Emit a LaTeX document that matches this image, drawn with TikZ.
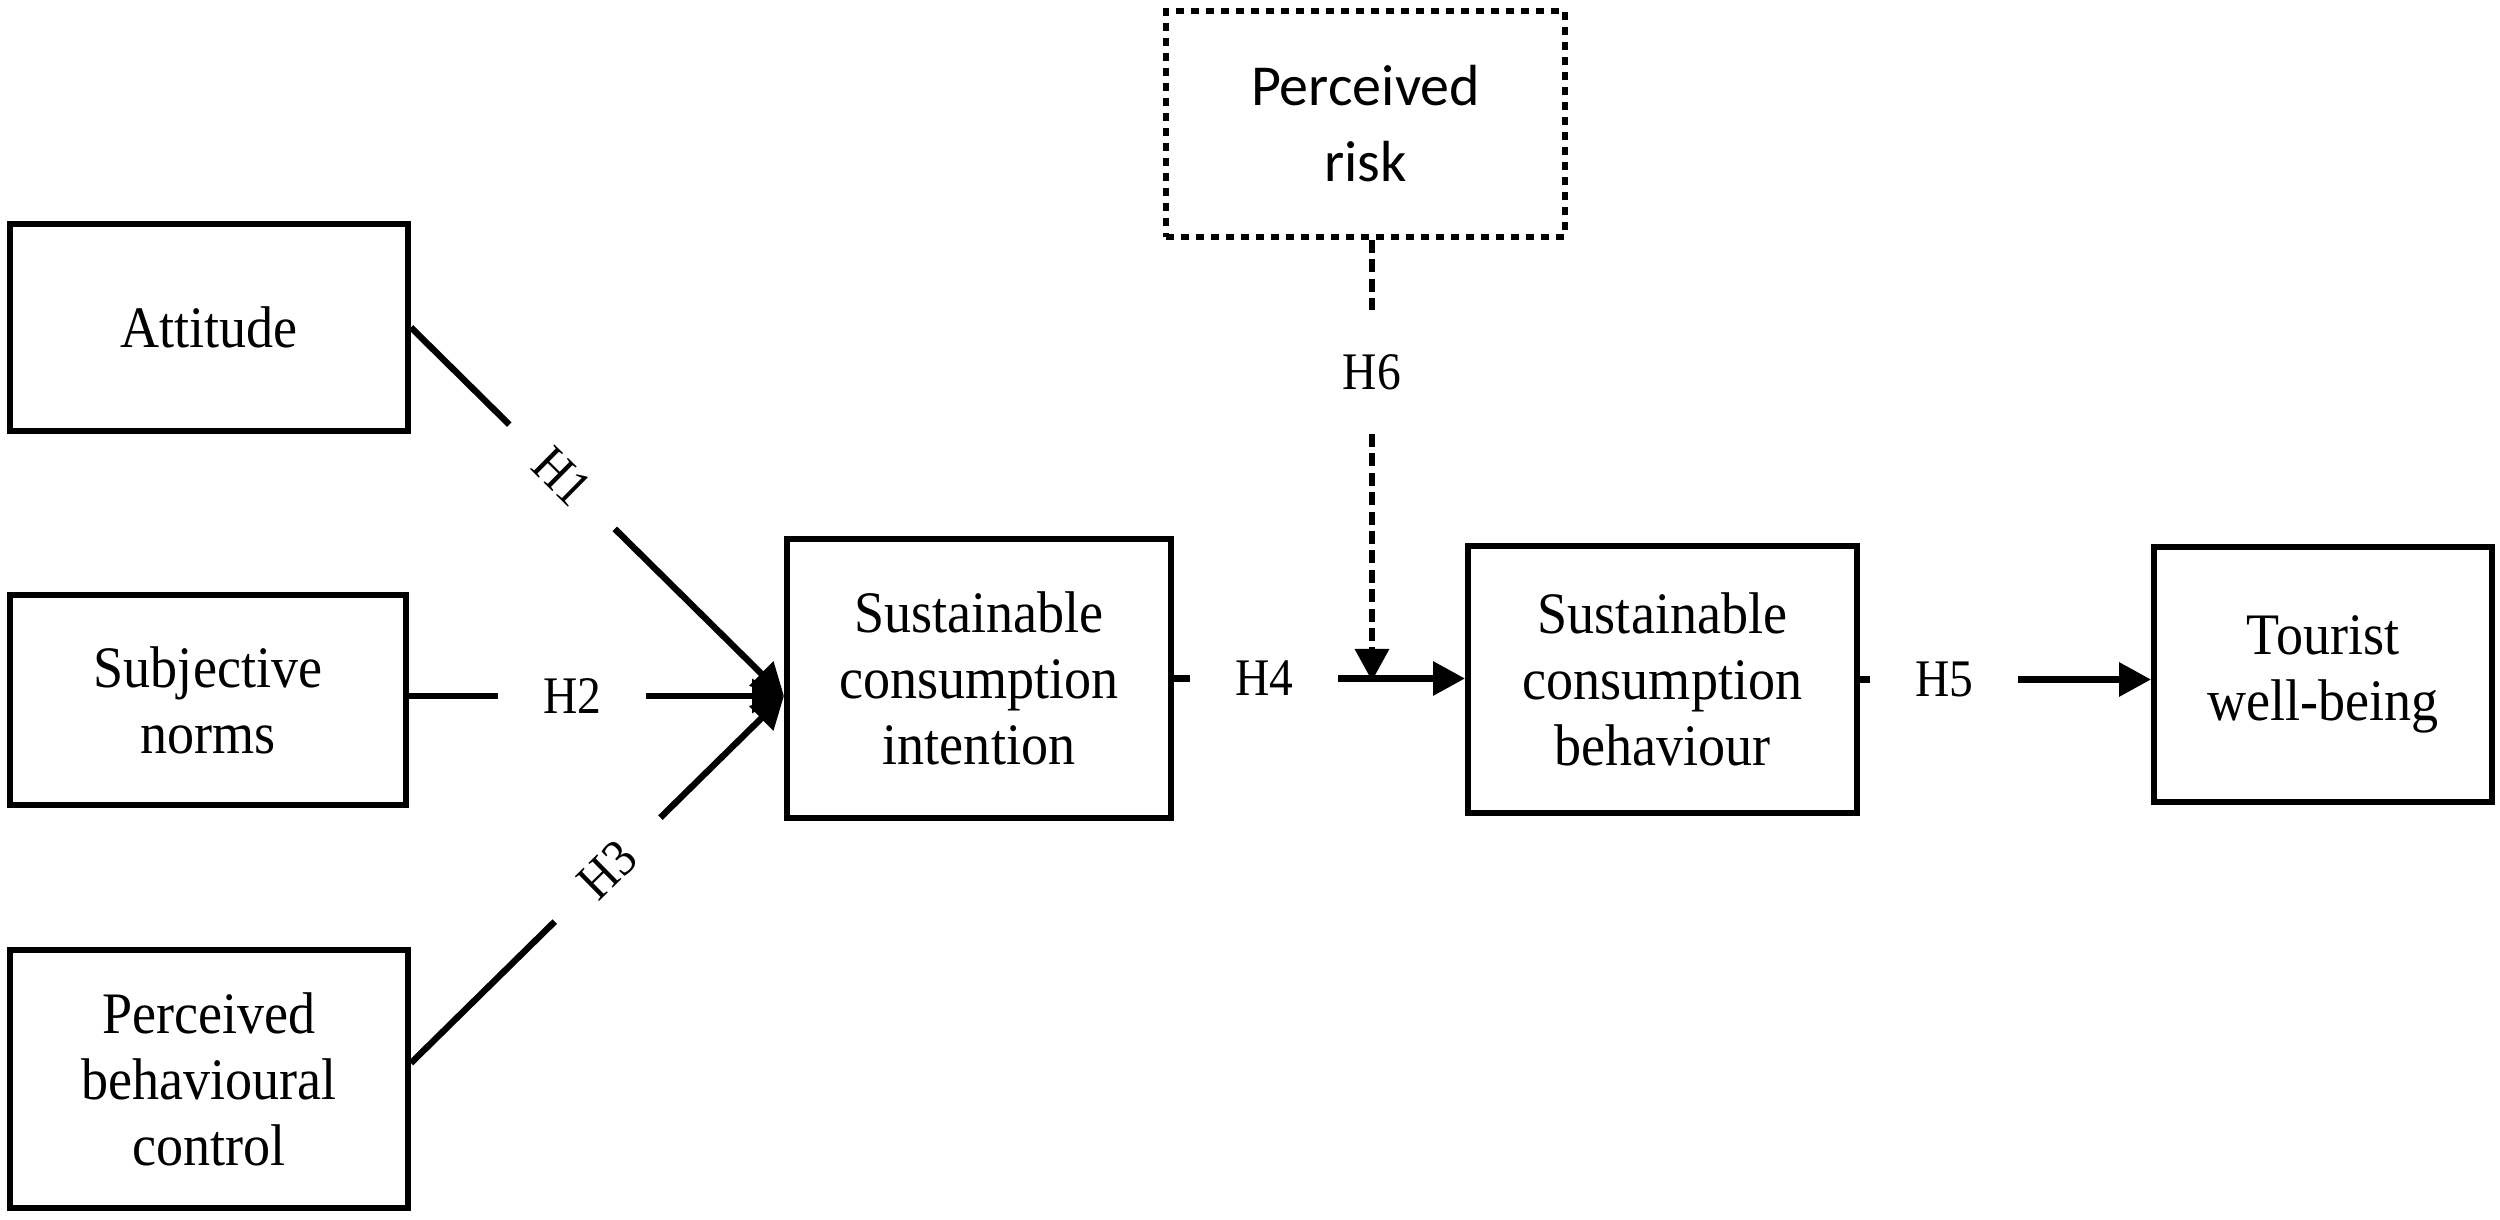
\documentclass[tikz,border=0pt]{standalone}
\usepackage{fontspec}
\setmainfont{Liberation Serif}
\newfontfamily\serifx{Liberation Serif}[FakeStretch=0.92]
\newfontfamily\serifh{Liberation Serif}[FakeStretch=0.9]
\newfontfamily\riskfont{Carlito}
\usetikzlibrary{arrows.meta,calc}
\begin{document}
\begin{tikzpicture}[x=0.25pt,y=-0.25pt,
  box/.style={draw, line width=1.4pt, align=center, inner sep=0pt, font=\serifx\fontsize{14.7}{16.5}\selectfont},
  riskbox/.style={draw, line width=1.6pt, dash pattern=on 2pt off 1.75pt, align=center, inner sep=0pt, font=\riskfont\fontsize{14.5}{19}\selectfont},
  conn/.style={line width=1.6pt, -{Triangle[length=8pt,width=8.25pt]}},
  hlab/.style={fill=white, inner sep=0pt, minimum width=37pt, minimum height=14pt, font=\serifh\fontsize{13.2}{14}\selectfont}]
\useasboundingbox (0,0) rectangle (2500,1220);
\node[box, minimum width=99.6pt, minimum height=51.85pt] (att) at (209,327.5) {Attitude};
\node[box, minimum width=99.1pt, minimum height=52.6pt] (sub) at (208,700) {Subjective\\norms};
\node[box, minimum width=99.6pt, minimum height=64.6pt] (pbc) at (209,1079) {Perceived\\behavioural\\control};
\node[box, minimum width=96.1pt, minimum height=69.85pt] (int) at (979,678.5) {Sustainable\\consumption\\intention};
\node[riskbox, minimum width=99.65pt, minimum height=56.4pt] (risk) at (1365.5,124) {Perceived\\risk};
\node[box, minimum width=97.35pt, minimum height=66.85pt] (beh) at (1662.5,679.5) {Sustainable\\consumption\\behaviour};
\node[box, minimum width=84.6pt, minimum height=63.85pt] (tw) at (2323,674.5) {Tourist\\well-being};
\coordinate (conv) at (784,696);
\draw[conn] (att.east) -- node[hlab, sloped, pos=0.405] {H1} (conv);
\draw[conn] (conv -| sub.east) -- node[hlab, pos=0.435] {H2} (conv);
\draw[conn] ([yshift=4pt]pbc.east) -- node[hlab, sloped, pos=0.527] {H3} (conv);
\draw[conn] (int.east) -- node[hlab, pos=0.31] {H4} (int.east -| beh.west);
\draw[conn] (beh.east) -- node[hlab, pos=0.29] {H5} (beh.east -| tw.west);
\coordinate (h6end) at (1372,681);
\draw[conn, dash pattern=on 3.25pt off 1.6pt] (h6end |- risk.south) -- node[hlab, minimum width=0pt, minimum height=31pt, pos=0.3] {H6} (h6end);
\end{tikzpicture}
\end{document}
